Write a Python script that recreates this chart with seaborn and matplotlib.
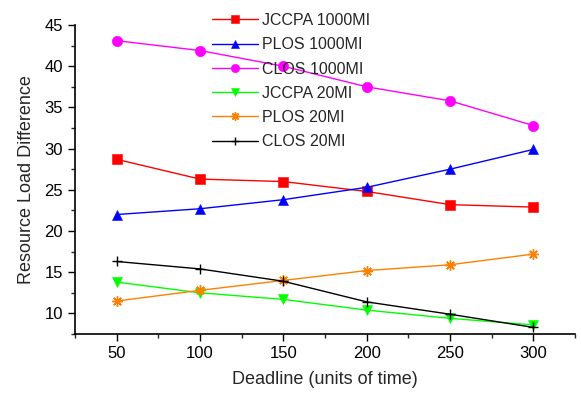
import matplotlib
matplotlib.use("Agg")
import matplotlib.pyplot as plt
from matplotlib.ticker import MultipleLocator
import numpy as np
import pandas as pd
import seaborn as sns

deadlines = [50, 100, 150, 200, 250, 300]

jccpa_1000 = [28.7, 26.3, 26.0, 24.8, 23.2, 22.9]
plos_1000 = [22.0, 22.7, 23.8, 25.3, 27.5, 29.9]
clos_1000 = [43.1, 41.9, 40.0, 37.5, 35.8, 32.8]
jccpa_20 = [13.8, 12.5, 11.7, 10.4, 9.4, 8.6]
plos_20 = [11.5, 12.8, 14.0, 15.2, 15.9, 17.2]
clos_20 = [16.3, 15.4, 13.9, 11.4, 9.9, 8.3]

series_names = ["JCCPA 1000MI", "PLOS 1000MI", "CLOS 1000MI",
                "JCCPA 20MI", "PLOS 20MI", "CLOS 20MI"]
series_values = [jccpa_1000, plos_1000, clos_1000, jccpa_20, plos_20, clos_20]

colors = ["#ff0000", "#0000ff", "#ff00ff", "#00ff00", "#ff8000", "#000000"]
markers = ["s", "^", "o", "v", (8, 2, 0), "+"]
sizes = [6.5, 7.5, 7.5, 7.5, 7.5, 7.5]

df = pd.DataFrame({
    "Deadline": np.tile(deadlines, len(series_names)),
    "Value": np.concatenate(series_values),
    "Series": np.repeat(series_names, len(deadlines)),
})

sns.set_style("ticks")
plt.rcParams["font.family"] = ["Liberation Sans", "DejaVu Sans"]

fig = plt.figure(figsize=(5.81, 3.94), dpi=100)
ax = fig.add_axes([75 / 581, 60 / 394, 500 / 581, 309 / 394])

for name, col, mk, ms in zip(series_names, colors, markers, sizes):
    sub = df[df["Series"] == name]
    thin_marker = mk == "+" or isinstance(mk, tuple)
    sns.lineplot(data=sub, x="Deadline", y="Value", ax=ax, color=col,
                 marker=mk, markersize=ms, markeredgecolor=col,
                 markeredgewidth=1.0 if thin_marker else 0.4,
                 linewidth=1.0, label=name)

ax.set_xlim(25, 325)
ax.set_ylim(7.5, 45)
ax.xaxis.set_major_locator(MultipleLocator(50))
ax.xaxis.set_minor_locator(MultipleLocator(25))
ax.yaxis.set_major_locator(MultipleLocator(5))
ax.yaxis.set_minor_locator(MultipleLocator(2.5))
ax.set_yticks([10, 15, 20, 25, 30, 35, 40, 45])
ax.tick_params(axis="both", which="major", length=5, width=1, labelsize=12,
               direction="out", colors="black")
ax.tick_params(axis="both", which="minor", length=3, width=1, direction="out")
for s in ["top", "right"]:
    ax.spines[s].set_visible(False)
for s in ["left", "bottom"]:
    ax.spines[s].set_linewidth(1.2)
    ax.spines[s].set_color("black")

ax.set_xlabel("Deadline (units of time)", fontsize=13, labelpad=7)
ax.set_ylabel("Resource Load Difference", fontsize=13, labelpad=7)

leg = ax.legend(loc="upper left", bbox_to_anchor=(212 / 581, 381 / 394),
                bbox_transform=fig.transFigure, frameon=False, fontsize=11.5,
                handlelength=2.85, handletextpad=0.3, labelspacing=0.58,
                borderpad=0, borderaxespad=0, markerscale=0.8)

fig.savefig("out.png", dpi=100)
